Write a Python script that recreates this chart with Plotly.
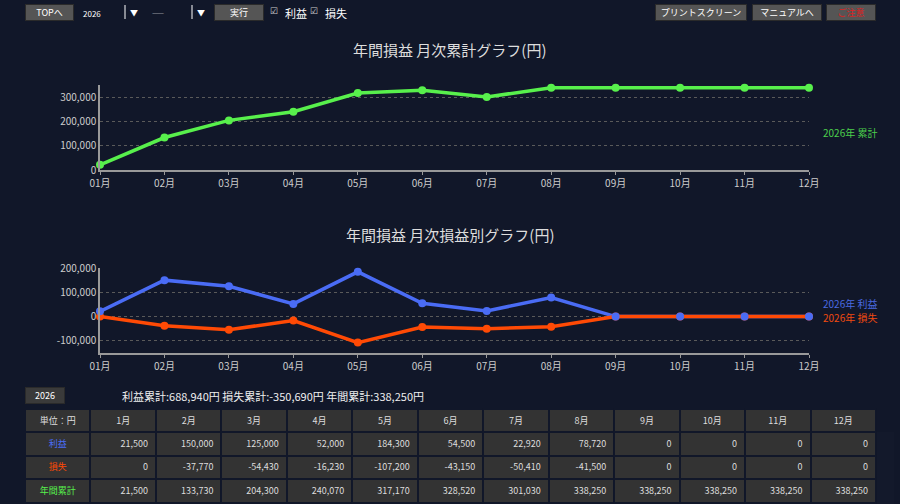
"""
Yearly profit/loss dashboard: cumulative line, monthly profit/loss lines and a summary table.
"""

import plotly.graph_objects as go

YEAR = 2026
months = ['01月', '02月', '03月', '04月', '05月', '06月',
          '07月', '08月', '09月', '10月', '11月', '12月']
table_months = ['1月', '2月', '3月', '4月', '5月', '6月',
                '7月', '8月', '9月', '10月', '11月', '12月']
profit = [21500, 150000, 125000, 52000, 184300, 54500, 22920, 78720, 0, 0, 0, 0]
loss = [0, -37770, -54430, -16230, -107200, -43150, -50410, -41500, 0, 0, 0, 0]
cumulative = [21500, 133730, 204300, 240070, 317170, 328520, 301030,
              338250, 338250, 338250, 338250, 338250]
top_ticks = [0, 100000, 200000, 300000]
bottom_ticks = [-100000, 0, 100000, 200000]

BG = '#111729'
GREEN = '#58f04c'
BLUE = '#4a6cf5'
ORANGE = '#ff4a05'
FONT = 'Noto Sans CJK JP'
W, H = 900, 504


def px(x):
    return x / W


def py(y):
    return 1 - y / H


def fmt(v):
    # keep ascii hyphen for negatives like the page does
    return f'{v:,}'


fig = go.Figure()

# top chart: cumulative
fig.add_trace(go.Scatter(x=months, y=cumulative, mode='lines+markers',
                         line=dict(color=GREEN, width=3.5),
                         marker=dict(color=GREEN, size=8),
                         cliponaxis=False, xaxis='x', yaxis='y',
                         name=f'{YEAR}年 累計'))

# bottom chart: profit / loss
fig.add_trace(go.Scatter(x=months, y=profit, mode='lines',
                         line=dict(color=BLUE, width=3.5),
                         cliponaxis=False, xaxis='x2', yaxis='y2',
                         name=f'{YEAR}年 利益'))
fig.add_trace(go.Scatter(x=months, y=loss, mode='lines+markers',
                         line=dict(color=ORANGE, width=3.5),
                         marker=dict(color=ORANGE, size=8),
                         cliponaxis=False, xaxis='x2', yaxis='y2',
                         name=f'{YEAR}年 損失'))
fig.add_trace(go.Scatter(x=months, y=profit, mode='markers',
                         marker=dict(color=BLUE, size=8),
                         cliponaxis=False, xaxis='x2', yaxis='y2',
                         showlegend=False))

# summary table
row_labels = ['利益', '損失', '年間累計']
label_colors = [BLUE, ORANGE, GREEN]
columns = [row_labels]
for i in range(len(table_months)):
    columns.append([fmt(profit[i]), fmt(loss[i]), fmt(cumulative[i])])
font_colors = [label_colors] + [['#dddddd'] * 3 for _ in table_months]

fig.add_trace(go.Table(
    domain=dict(x=[px(25), px(876)], y=[0, py(409)]),
    header=dict(values=['単位：円'] + table_months,
                fill_color='#333333',
                line=dict(color=BG, width=2),
                align='center',
                font=dict(family=FONT, size=9, color='#dddddd'),
                height=23),
    cells=dict(values=columns,
               fill_color='#333333',
               line=dict(color=BG, width=2),
               align=['center'] + ['right'] * 12,
               font=dict(family=FONT, size=9, color=font_colors),
               height=23.5)
))

axis_common = dict(showgrid=False, showline=True, linecolor='#999999',
                   linewidth=2, ticks='outside', ticklen=3, tickcolor='#999999',
                   tickfont=dict(family=FONT, size=10, color='#cccccc'),
                   range=[0, 11], fixedrange=True, automargin=False)
yaxis_common = dict(showline=True, linecolor='#999999', linewidth=1.5,
                    showgrid=True, gridcolor='#5a5a5a', griddash='dot', gridwidth=1,
                    zeroline=False, ticks='', automargin=False,
                    tickfont=dict(family=FONT, size=10, color='#cccccc'),
                    fixedrange=True)

fig.update_layout(
    width=W, height=H,
    margin=dict(l=0, r=0, t=0, b=0, pad=0, autoexpand=False),
    paper_bgcolor=BG, plot_bgcolor=BG,
    font=dict(family=FONT, color='#dddddd'),
    showlegend=False,
    xaxis=dict(domain=[px(100), px(809)], anchor='y', **axis_common),
    yaxis=dict(domain=[py(170), py(85)], anchor='x', range=[0, 350000],
               tickvals=top_ticks, ticktext=[fmt(v) for v in top_ticks],
               **yaxis_common),
    xaxis2=dict(domain=[px(100), px(809)], anchor='y2', **axis_common),
    yaxis2=dict(domain=[py(353), py(268)], anchor='x2', range=[-150000, 200000],
                tickvals=bottom_ticks, ticktext=[fmt(v) for v in bottom_ticks],
                **yaxis_common),
)

# chart titles and series labels
ann = [
    dict(x=0.5, y=py(50), text='年間損益 月次累計グラフ(円)',
         font=dict(size=15, color='#dddddd')),
    dict(x=0.5, y=py(234), text='年間損益 月次損益別グラフ(円)',
         font=dict(size=15, color='#dddddd')),
    dict(x=px(821), y=py(133), text=f'{YEAR}年 累計', xanchor='left',
         font=dict(size=10, color='#4cd04c')),
    dict(x=px(821), y=py(303), text=f'{YEAR}年 利益', xanchor='left',
         font=dict(size=10, color='#4a6ae0')),
    dict(x=px(821), y=py(317), text=f'{YEAR}年 損失', xanchor='left',
         font=dict(size=10, color='#f04a10')),
    dict(x=px(120), y=py(396), text='利益累計:%s円 損失累計:%s円 年間累計:%s円' % (
        fmt(sum(profit)), fmt(sum(loss)), fmt(cumulative[-1])), xanchor='left',
         font=dict(size=11, color='#eeeeee')),
]

# toolbar buttons
buttons = [
    (25, 74, 'TOPへ', '#ffffff'),
    (214, 264, '実行', '#ffffff'),
    (655, 747, 'プリントスクリーン', '#ffffff'),
    (752, 822, 'マニュアルへ', '#ffffff'),
    (826, 876, 'ご注意', '#dd2222'),
]
for x0, x1, label, col in buttons:
    ann.append(dict(x=px((x0 + x1) / 2), y=py(12), text=label, xanchor='center',
                    width=x1 - x0 - 2, height=15, bgcolor='#555555',
                    bordercolor='#2a2a2a', borderwidth=1, borderpad=0,
                    font=dict(size=9, color=col)))
# year button above table
ann.append(dict(x=px(45), y=py(395), text=str(YEAR), xanchor='center',
                width=38, height=15,
                bgcolor='#3a3a3a', bordercolor='#2a2a2a', borderwidth=1, borderpad=0,
                font=dict(size=9, color='#ffffff')))

# select boxes and checkboxes
ann += [
    dict(x=px(81), y=py(13), text='2026', xanchor='left',
         font=dict(size=8, color='#ffffff')),
    dict(x=px(134), y=py(12), text='▼', xanchor='center',
         font=dict(size=8, color='#ffffff')),
    dict(x=px(150), y=py(13), text='――', xanchor='left',
         font=dict(size=6, color='#ffffff')),
    dict(x=px(201), y=py(12), text='▼', xanchor='center',
         font=dict(size=8, color='#ffffff')),
    dict(x=px(274), y=py(10), text='☑', xanchor='center',
         font=dict(size=9, color='#cccccc')),
    dict(x=px(283), y=py(13), text='利益', xanchor='left',
         font=dict(size=11, color='#ffffff')),
    dict(x=px(314), y=py(10), text='☑', xanchor='center',
         font=dict(size=9, color='#cccccc')),
    dict(x=px(323), y=py(13), text='損失', xanchor='left',
         font=dict(size=11, color='#ffffff')),
]
for a in ann:
    a.setdefault('xref', 'paper')
    a.setdefault('yref', 'paper')
    a.setdefault('showarrow', False)
    a.setdefault('xanchor', 'center')
    a.setdefault('yanchor', 'middle')
fig.update_layout(annotations=ann)

shapes = [
    dict(type='line', x0=px(125), x1=px(125), y0=py(5), y1=py(19),
         line=dict(color='#ffffff', width=1)),
    dict(type='line', x0=px(192), x1=px(192), y0=py(5), y1=py(19),
         line=dict(color='#ffffff', width=1)),
]
for s in shapes:
    s['xref'] = 'paper'
    s['yref'] = 'paper'
fig.update_layout(shapes=shapes)

# pin the figure to the window corner so the page is exactly the window size
page_fix = ("var gd = document.getElementById('{plot_id}');"
            "document.documentElement.style.overflow='hidden';"
            "document.body.style.margin='0';"
            "document.body.style.overflow='hidden';"
            "document.body.style.background='%s';"
            "gd.style.position='fixed'; gd.style.left='0px'; gd.style.top='0px';" % BG)
fig.write_html('out.html',
               config={'displayModeBar': False, 'responsive': False},
               post_script=page_fix)
